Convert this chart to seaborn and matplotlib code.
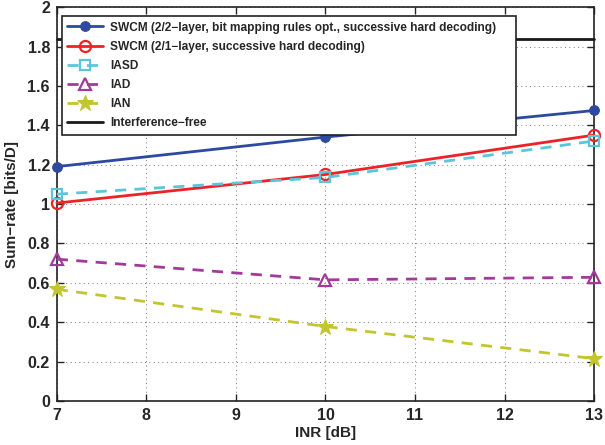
import matplotlib
matplotlib.use("Agg")
import matplotlib.pyplot as plt
import seaborn as sns
import pandas as pd

inr_db = [7, 10, 13]
swcm_22 = [1.19, 1.34, 1.475]
swcm_21 = [1.005, 1.15, 1.35]
iasd = [1.05, 1.135, 1.32]
iad = [0.72, 0.615, 0.628]
ian = [0.567, 0.378, 0.215]
interference_free = [1.838, 1.838, 1.838]

labels = [
    "SWCM (2/2\u2212layer, bit mapping rules opt., successive hard decoding)",
    "SWCM (2/1\u2212layer, successive hard decoding)",
    "IASD",
    "IAD",
    "IAN",
    "Interference\u2212free",
]
series = [swcm_22, swcm_21, iasd, iad, ian, interference_free]

sns.set_style("ticks")
plt.rcParams["font.family"] = ["Liberation Sans", "DejaVu Sans"]
plt.rcParams["font.weight"] = "bold"

fig = plt.figure(figsize=(6.05, 4.45), dpi=100)
ax = fig.add_axes([0.094, 0.099, 0.888, 0.885])

styles = [
    dict(color="#2e4a9e", marker="o", linestyle="-", mfc="#2e4a9e", ms=7),
    dict(color="#ec2227", marker="o", linestyle="-", mfc="none", ms=8, mew=1.6),
    dict(color="#5bc6da", marker="s", linestyle=(0, (4, 3)), mfc="none", ms=7, mew=1.6),
    dict(color="#a23a9c", marker="^", linestyle=(0, (4, 3)), mfc="none", ms=9, mew=1.6),
    dict(color="#c3c52e", marker="*", linestyle=(0, (4, 3)), mfc="#c3c52e", ms=12),
    dict(color="#1a1a1a", marker=None, linestyle="-"),
]

for lab, vals, st in zip(labels, series, styles):
    df = pd.DataFrame({"INR": inr_db, "rate": vals})
    st = dict(st)
    color = st.pop("color")
    ls = st.pop("linestyle")
    marker = st.pop("marker")
    sns.lineplot(data=df, x="INR", y="rate", ax=ax, color=color, linestyle=ls,
                 marker=marker, label=lab, lw=2, clip_on=False, zorder=3,
                 markeredgecolor=color, **st)

ax.set_xlim(7, 13)
ax.set_ylim(0, 2)
ax.set_xticks(range(7, 14))
ax.set_yticks([0, 0.2, 0.4, 0.6, 0.8, 1, 1.2, 1.4, 1.6, 1.8, 2])
ax.set_yticklabels(["0", "0.2", "0.4", "0.6", "0.8", "1", "1.2", "1.4", "1.6", "1.8", "2"])
ax.tick_params(direction="in", length=5, width=1, labelsize=11.5, top=True, right=True, pad=5)
for t in ax.get_xticklabels() + ax.get_yticklabels():
    t.set_fontweight("bold")
ax.grid(True, linestyle=(0, (1, 3.5)), color="#777777", lw=0.7)
for s in ax.spines.values():
    s.set_linewidth(1.2)
    s.set_color("#222222")
ax.set_xlabel("INR [dB]", fontsize=11, fontweight="bold", labelpad=2)
ax.set_ylabel("Sum\u2212rate [bits/D]", fontsize=11, fontweight="bold", labelpad=6)

leg = ax.legend(loc="upper left", bbox_to_anchor=(0.009, 0.5, 0.846, 0.477), mode="expand",
                fontsize=8.6, frameon=True, fancybox=False, framealpha=1, edgecolor="#222222",
                handlelength=3.0, borderpad=0.45, labelspacing=0.6, handletextpad=0.6,
                borderaxespad=0)
leg.get_frame().set_linewidth(1.2)
for t in leg.get_texts():
    t.set_fontweight("bold")

fig.savefig("out.png", dpi=100)
